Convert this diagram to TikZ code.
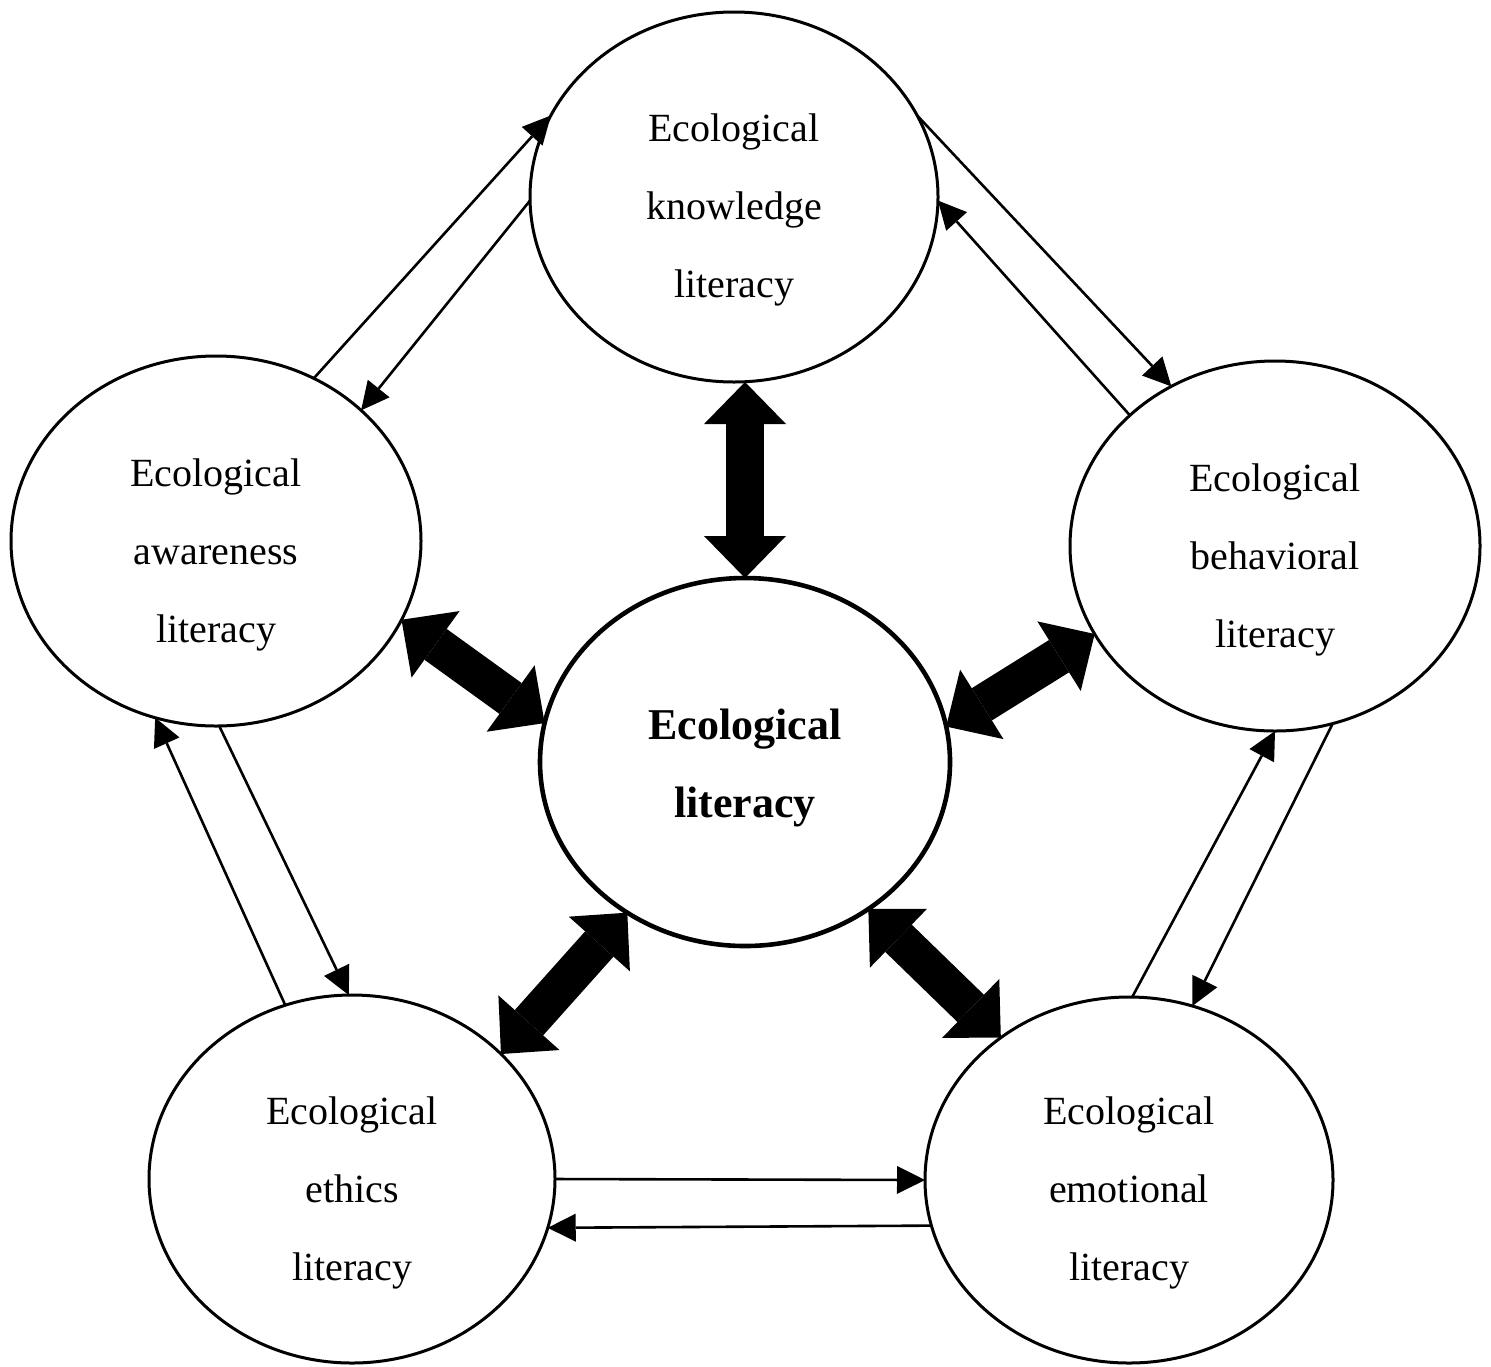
\documentclass[tikz,border=0pt]{standalone}
\usepackage{fontspec}
\setmainfont{Liberation Serif}
\usetikzlibrary{shapes.geometric,arrows.meta}
\begin{document}
\begin{tikzpicture}[x=0.5pt,y=-0.5pt,
  bubble/.style={draw,ellipse,line width=1.5pt,inner sep=0pt,outer sep=0pt},
  hub/.style={draw,ellipse,line width=2.3pt,inner sep=0pt,outer sep=0pt},
  lbl/.style={align=center,inner sep=0pt,font=\fontsize{20}{39}\selectfont},
  hublbl/.style={align=center,inner sep=0pt,font=\fontsize{22}{39}\selectfont\bfseries},
  link/.style={line width=1.3pt,-{Triangle[length=14pt,width=14pt,line width=0pt]}},
  fat/.style={line width=19pt,
    {Triangle[length=21pt,width=41pt,line width=0pt]}-{Triangle[length=21pt,width=41pt,line width=0pt]}}
]
\fill[white] (0,0) rectangle (1491,1366);
\path[use as bounding box] (0,0) rectangle (1491,1366);

% ellipses
\node[bubble,minimum width=204pt,minimum height=185pt] (know)   at (734,197)  {};
\node[bubble,minimum width=205pt,minimum height=185pt] (aware)  at (216,541)  {};
\node[bubble,minimum width=205pt,minimum height=185pt] (behav)  at (1275,546) {};
\node[bubble,minimum width=203pt,minimum height=184pt] (ethics) at (352,1179) {};
\node[bubble,minimum width=204pt,minimum height=183pt] (emot)   at (1129,1180) {};
\node[hub,minimum width=205pt,minimum height=184pt]    (center) at (745,762)  {};

% texts
\node[lbl] (knowT)   at (734,210)   {Ecological\\knowledge\\literacy};
\node[lbl] (awareT)  at (216,555)   {Ecological\\awareness\\literacy};
\node[lbl] (behavT)  at (1275,560)  {Ecological\\behavioral\\literacy};
\node[lbl] (ethicsT) at (352,1193)  {Ecological\\ethics\\literacy};
\node[lbl] (emotT)   at (1129,1193) {Ecological\\emotional\\literacy};
\node[hublbl] (centerT) at (745,768) {Ecological\\literacy};

% thin paired arrows
\draw[link] (aware.59) -- (know.156);
\draw[link] (know.181) -- (aware.42);
\draw[link] (know.24) -- (behav.123);
\draw[link] (behav.138) -- (know.359);
\draw[link] (behav.288) -- (emot.70);
\draw[link] (emot.89) -- (behav.270);
\draw[link] (ethics.0) -- (emot.180);
\draw[link] (emot.193.3) -- (ethics.346.6);
\draw[link] (aware.271) -- (ethics.91);
\draw[link] (ethics.111) -- (aware.251);

% thick double arrows
\draw[fat] (know.south -| center.north) -- (center.north);
\draw[fat] (aware.337) -- (center.169);
\draw[fat] (behav.206) -- (center.10);
\draw[fat] (center.232) -- (ethics.40);
\draw[fat] (center.310) -- (emot.132);
\end{tikzpicture}
\end{document}
